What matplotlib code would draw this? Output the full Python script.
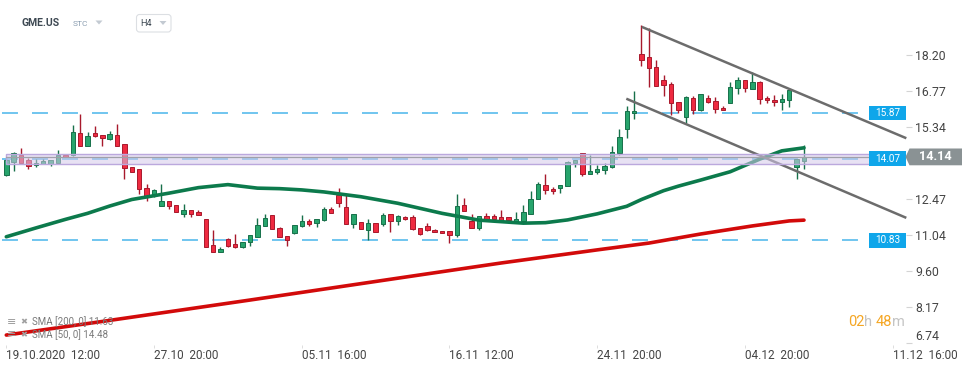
import matplotlib
matplotlib.use("Agg")
import matplotlib.pyplot as plt
import matplotlib.transforms as mtransforms
from matplotlib.patches import Rectangle, Polygon, FancyBboxPatch
import numpy as np

plt.rcParams['font.family'] = ['Roboto', 'DejaVu Sans']
plt.rcParams['lines.scale_dashes'] = False

# ---------------- data ----------------
opens = [13.43, 13.95, 14.22, 14.00, 13.82, 13.86, 13.86, 13.91, 14.20, 14.21,
         15.08, 14.58, 15.08, 15.00, 14.86, 15.00, 14.64, 13.73, 13.65, 12.89,
         12.60, 12.18, 12.39, 12.23, 11.89, 12.03, 11.97, 11.67, 10.63, 10.38,
         10.87, 10.67, 10.57, 10.75, 10.97, 11.39, 11.82, 11.31, 10.99, 11.11,
         11.39, 11.58, 11.50, 11.62, 12.06, 12.61, 12.14, 11.46, 11.54, 11.23,
         11.50, 11.46, 11.86, 11.58, 11.74, 11.74, 11.31, 11.39, 11.23, 11.19,
         11.19, 11.03, 12.22, 11.58, 11.31, 11.78, 11.78, 11.77, 11.77, 11.56,
         11.61, 11.88, 12.46, 13.01, 12.85, 12.89, 12.97, 13.88, 14.28, 13.45,
         13.53, 13.61, 13.73, 14.28, 15.23, 15.87, 18.23, 18.09, 17.69, 17.18,
         17.02, 16.31, 15.71, 16.46, 15.99, 16.46, 16.35, 16.07, 16.27, 16.86,
         17.18, 16.82, 17.10, 16.46, 16.39, 16.31, 16.39, 13.75, 13.99]
highs = [14.04, 14.33, 14.50, 14.10, 14.07, 14.07, 14.02, 14.41, 14.20, 15.41,
         15.84, 15.13, 15.37, 15.00, 15.16, 15.45, 14.64, 13.73, 13.65, 13.06,
         12.85, 13.06, 12.39, 12.23, 12.27, 12.03, 12.03, 11.67, 11.24, 10.55,
         10.92, 11.08, 10.75, 11.03, 11.70, 11.87, 11.82, 11.35, 10.99, 11.43,
         11.82, 11.66, 11.66, 12.14, 12.14, 12.89, 12.61, 11.86, 11.54, 11.66,
         11.50, 11.90, 11.86, 11.82, 11.78, 11.82, 11.31, 11.50, 11.27, 11.19,
         11.19, 12.65, 12.50, 11.86, 11.78, 11.90, 11.86, 12.03, 11.77, 11.95,
         12.22, 12.77, 13.13, 13.45, 12.93, 13.01, 13.96, 14.02, 14.28, 14.20,
         13.80, 13.88, 14.56, 15.23, 16.15, 16.74, 19.39, 19.24, 17.97, 17.38,
         17.10, 16.31, 16.54, 16.54, 16.62, 16.58, 16.50, 16.15, 17.10, 17.30,
         17.18, 17.50, 17.14, 16.54, 16.58, 16.62, 16.82, 14.04, 14.60]
lows = [13.39, 13.59, 13.88, 13.67, 13.73, 13.86, 13.79, 13.88, 14.12, 14.17,
        14.58, 14.58, 14.94, 14.58, 14.82, 14.56, 13.27, 13.53, 12.68, 12.40,
        12.56, 12.18, 12.08, 11.97, 11.74, 11.77, 11.85, 10.57, 10.38, 10.38,
        10.58, 10.54, 10.54, 10.62, 10.97, 11.39, 11.27, 10.95, 10.62, 11.09,
        11.35, 11.39, 11.35, 11.58, 11.90, 12.16, 11.46, 11.33, 11.27, 10.85,
        11.15, 11.39, 11.17, 11.43, 11.62, 11.23, 11.05, 11.19, 11.15, 11.11,
        10.73, 10.95, 11.98, 11.31, 11.23, 11.66, 11.62, 11.65, 11.65, 11.53,
        11.61, 11.88, 12.46, 12.65, 12.65, 12.69, 12.97, 13.73, 13.37, 13.45,
        13.45, 13.45, 13.69, 14.20, 14.88, 15.63, 17.76, 16.93, 16.94, 16.54,
        15.79, 15.87, 15.47, 15.83, 15.95, 16.27, 15.87, 15.99, 16.27, 16.62,
        16.70, 16.82, 16.23, 16.27, 16.15, 15.99, 16.11, 13.25, 13.67]
closes = [14.02, 14.28, 13.88, 13.77, 13.90, 13.98, 14.02, 14.20, 14.12, 15.12,
          14.58, 14.96, 14.98, 14.90, 15.04, 14.56, 13.69, 13.53, 12.85, 12.56,
          12.81, 12.39, 12.18, 11.97, 12.03, 11.89, 11.85, 10.57, 10.38, 10.48,
          10.62, 10.57, 10.75, 11.03, 11.43, 11.70, 11.27, 10.95, 10.83, 11.43,
          11.58, 11.47, 11.66, 12.06, 11.90, 12.30, 11.46, 11.86, 11.27, 11.50,
          11.15, 11.82, 11.58, 11.78, 11.66, 11.27, 11.07, 11.23, 11.15, 11.11,
          11.03, 12.18, 11.98, 11.31, 11.78, 11.66, 11.66, 11.65, 11.65, 11.66,
          11.94, 12.46, 13.05, 12.81, 12.77, 13.01, 13.92, 14.02, 13.45, 13.58,
          13.66, 13.77, 14.32, 14.92, 15.95, 15.95, 17.99, 17.66, 16.94, 16.98,
          16.27, 15.99, 16.50, 15.99, 16.62, 16.31, 16.03, 15.99, 16.90, 17.18,
          16.86, 17.10, 16.43, 16.39, 16.31, 16.43, 16.78, 14.04, 14.14]

sma50_idx = [0, 4, 8, 11, 14, 17, 22, 26, 30, 34, 37, 40, 43, 48, 53, 59, 64,
             67, 70, 73, 76, 80, 84, 86, 89, 91, 94, 98, 102, 105, 108]
sma50_val = [10.97, 11.32, 11.66, 11.90, 12.19, 12.45, 12.70, 12.92, 13.04,
             12.90, 12.88, 12.83, 12.75, 12.56, 12.30, 11.90, 11.63, 11.57,
             11.51, 11.53, 11.64, 11.88, 12.18, 12.45, 12.80, 12.98, 13.22,
             13.55, 14.05, 14.38, 14.50]
sma200_idx = [0, 13, 33, 54, 67, 80, 87, 94, 101, 106, 108]
sma200_val = [7.07, 7.61, 8.46, 9.37, 9.93, 10.45, 10.72, 11.08, 11.40, 11.60, 11.63]

trend_upper_idx = [86.2, 121.7]
trend_upper_val = [19.28, 14.90]
trend_lower_idx = [84.1, 121.7]
trend_lower_val = [16.43, 11.74]

level_values = [15.87, 14.07, 10.83]
level_labels = ["15.87", "14.07", "10.83"]
band_low, band_high = 13.85, 14.24
current_price = 14.14

ytick_values = [6.74, 8.17, 9.60, 11.04, 12.47, 15.34, 16.77, 18.20]
ytick_labels = ["6.74", "8.17", "9.60", "11.04", "12.47", "15.34", "16.77", "18.20"]
xtick_idx = [0, 20, 40, 60, 80, 100, 120]
xtick_labels = ["19.10.2020  12:00", "27.10  20:00", "05.11  16:00", "16.11  12:00",
                "24.11  20:00", "04.12  20:00", "11.12  16:00"]

# ---------------- layout ----------------
W, H = 974, 368
fig = plt.figure(figsize=(W / 100, H / 100), dpi=100)
fig.patch.set_facecolor("white")

def fx(px):
    return px / W

def fy(py):
    return 1 - py / H

PX_PER_UNIT = 25.2
P0 = 20.366
def yprice(py):
    return P0 - py / PX_PER_UNIT

STEP = 7.386
AX_RIGHT = 906
ax = fig.add_axes([0, fy(345), AX_RIGHT / W, (345 - 10) / H])
ax.set_ylim(yprice(345), yprice(10))
ax.set_xlim(-6.3 / STEP, (AX_RIGHT - 6.3) / STEP)
for s in ax.spines.values():
    s.set_visible(False)
ax.set_facecolor("white")

GREEN = "#27a46c"
GREEN_E = "#17704a"
RED = "#ee2a40"
RED_E = "#a8192c"

o = np.array(opens); h = np.array(highs); l = np.array(lows); c = np.array(closes)
x = np.arange(len(o))
up = c >= o
bb = np.minimum(o, c)
bh = np.maximum(np.abs(c - o), 0.05)
for mask, fc, ec in [(up, GREEN, GREEN_E), (~up, RED, RED_E)]:
    ax.vlines(x[mask], l[mask], h[mask], color=ec, lw=1.0, zorder=2)
    ax.bar(x[mask], bh[mask], bottom=bb[mask], width=0.6, color=fc,
           edgecolor=ec, linewidth=0.7, zorder=3)

# dashed levels
trans_b = mtransforms.blended_transform_factory(ax.transAxes, ax.transData)
for v in level_values:
    ax.plot([-0.6, 115.4], [v, v], color="#2aa9e8", lw=1.1, alpha=0.85,
            dashes=(11.5, 10.1), zorder=1.5)

# moving averages
ax.plot(sma200_idx, sma200_val, color="#d20a0a", lw=2.6, zorder=4,
        solid_capstyle="round")
ax.plot(sma50_idx, sma50_val, color="#0c7a4c", lw=2.6, zorder=4,
        solid_capstyle="round")

# trend channel
ax.plot(trend_upper_idx, trend_upper_val, color="#6c6c6c", lw=1.8, zorder=5,
        clip_on=False)
ax.plot(trend_lower_idx, trend_lower_val, color="#6c6c6c", lw=1.8, zorder=5,
        clip_on=False)

# band
band_right = (872 - 6.3) / STEP
ax.add_patch(Rectangle((0, band_low), band_right, band_high - band_low,
                       facecolor="#d4c9ea", alpha=0.55, edgecolor="none", zorder=6))
ax.add_patch(Rectangle((0, band_low), band_right, band_high - band_low,
                       facecolor="none", edgecolor="#bba8dd", lw=1.0, zorder=6.5))
ax.plot([0, band_right], [current_price, current_price], color="#a0a0a8",
        lw=0.9, zorder=7)

# level label boxes
bx0 = 869 / AX_RIGHT
bw = 37 / AX_RIGHT
hh = 7.2 / PX_PER_UNIT
for v, lab in zip(level_values, level_labels):
    ax.add_patch(Rectangle((bx0, v - hh), bw, 2 * hh, transform=trans_b,
                           facecolor="#0fa6ea", edgecolor="none", zorder=8,
                           clip_on=False))
    ax.text(bx0 + bw / 2, v, lab, transform=trans_b, color="white",
            fontsize=7.2, ha="center", va="center", zorder=9)

# current price tag
ch = 8.4 / PX_PER_UNIT
pts = [(905.5 / AX_RIGHT, current_price), (909.5 / AX_RIGHT, current_price + ch),
       (962 / AX_RIGHT, current_price + ch), (962 / AX_RIGHT, current_price - ch),
       (909.5 / AX_RIGHT, current_price - ch)]
ax.add_patch(Polygon(pts, closed=True, transform=trans_b, facecolor="#8a9294",
                     edgecolor="none", zorder=10, clip_on=False))
ax.text(935.5 / AX_RIGHT, current_price, f"{current_price:.2f}", transform=trans_b,
        color="white", fontsize=9.2, fontweight="bold", ha="center", va="center",
        zorder=11)

# axes ticks
ax.yaxis.tick_right()
ax.set_yticks(ytick_values)
ax.set_yticklabels(ytick_labels)
ax.tick_params(axis="y", length=4.3, width=0.8, color="#d4d4d4", pad=2.4,
               labelsize=8.8, labelcolor="#444444")
for t, v in zip(ax.get_yticklabels(), ytick_values):
    if v == ytick_values[0]:
        t.set_verticalalignment("bottom")
ax.set_xticks(xtick_idx)
ax.set_xticklabels(xtick_labels)
ax.tick_params(axis="x", length=2.5, width=0.6, color="#d8d8d8", pad=0.5,
               labelsize=8.5, labelcolor="#444444")
for t in ax.get_xticklabels():
    t.set_horizontalalignment("left")

# header
fig.text(fx(21), fy(23), "GME.US", fontsize=7.5, fontweight="bold",
         color="#3d4852", va="center", ha="left")
fig.text(fx(73), fy(24), "STC", fontsize=6.0, color="#8a9db0", va="center", ha="left")

def tri_patch(x0, y0):
    return Polygon([(fx(x0), fy(y0)), (fx(x0 + 7), fy(y0)), (fx(x0 + 3.5), fy(y0 + 4))],
                   closed=True, transform=fig.transFigure, facecolor="#c3cad2",
                   edgecolor="none")
fig.patches.append(tri_patch(95.5, 20.5))
fig.patches.append(FancyBboxPatch((1.365, (H - 32) / 100), 0.345, 0.175,
                                  boxstyle="round,pad=0,rounding_size=0.03",
                                  transform=fig.dpi_scale_trans, facecolor="white",
                                  edgecolor="#dcdfe3", lw=0.8))
fig.text(fx(140), fy(24), "H4", fontsize=6.6, color="#3d4852", va="center", ha="left")
fig.patches.append(tri_patch(159.5, 21))

# legend
for row_y, txt in [(321.7, "SMA [200, 0] 11.63"), (334.3, "SMA [50, 0] 14.48")]:
    fig.text(fx(6.5), fy(row_y), "\u2261", fontsize=8, color="#9a9a9a",
             va="center", ha="left", family="DejaVu Sans", zorder=0)
    fig.text(fx(20.5), fy(row_y), "\u2716", fontsize=6, color="#a0a0a0",
             va="center", ha="left", family="DejaVu Sans", zorder=0)
    fig.text(fx(32), fy(row_y), txt, fontsize=7, color="#7a7a7a",
             va="center", ha="left", zorder=0)

# countdown
for px, s, col in [(848, "02", "#f5a623"), (864, "h", "#c4c4c4"),
                   (876, "48", "#f5a623"), (892, "m", "#c4c4c4")]:
    fig.text(fx(px), fy(322.5), s, fontsize=10.5, color=col, va="center", ha="left")

fig.savefig("out.png", dpi=100, facecolor="white")
